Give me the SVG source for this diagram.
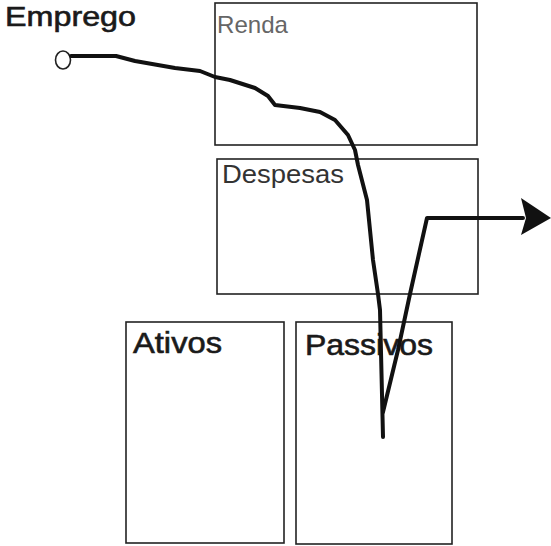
<svg xmlns="http://www.w3.org/2000/svg" width="551" height="546" viewBox="0 0 551 546">
<style>
.box{fill:none;stroke:#222;stroke-width:1.6}
.lbl{font-family:"Liberation Sans",Arial,sans-serif}
.heavy{stroke:#1a1a1a;stroke-width:0.6}
.flow{fill:none;stroke:#111;stroke-width:4;stroke-linejoin:round;stroke-linecap:round}
</style>
<rect width="551" height="546" fill="#fff"/>
<g id="emprego">
<text class="lbl heavy" x="5" y="26" font-size="27" fill="#1a1a1a" textLength="131" lengthAdjust="spacingAndGlyphs">Emprego</text>
<ellipse cx="63" cy="60" rx="7.5" ry="9" fill="#fff" stroke="#222" stroke-width="1.6"/>
</g>
<g id="renda">
<rect class="box" x="215" y="3" width="262" height="142"/>
<text class="lbl" x="217" y="33" font-size="24" fill="#666" textLength="71" lengthAdjust="spacingAndGlyphs">Renda</text>
</g>
<g id="despesas">
<rect class="box" x="217" y="159" width="261" height="135"/>
<text class="lbl" x="222" y="183" font-size="25" fill="#333" textLength="122" lengthAdjust="spacingAndGlyphs">Despesas</text>
</g>
<g id="ativos">
<rect class="box" x="126" y="322" width="158" height="221"/>
<text class="lbl heavy" x="133" y="353" font-size="29" fill="#1a1a1a" textLength="89" lengthAdjust="spacingAndGlyphs">Ativos</text>
</g>
<g id="passivos">
<rect class="box" x="296" y="322" width="156" height="222"/>
<text class="lbl heavy" x="305" y="355" font-size="29" fill="#1a1a1a" textLength="128" lengthAdjust="spacingAndGlyphs">Passivos</text>
</g>
<g id="connectors">
<path class="flow" d="M71 56 L116 56 L135 61 L175 68 L200 71 L215 77 L230 80 L255 88 L268 96 L275 105 L300 108 L320 112 L335 120 L348 135 L355 150 L358 165 L367 200 L373 260 L378 294 L380 310 L383 437"/>
<path class="flow" d="M383 412 L398 350 L410 294 L427 218 L523 218"/>
<polygon points="521,198 551,218 521,235 526,218" fill="#111"/>
</g>
</svg>
